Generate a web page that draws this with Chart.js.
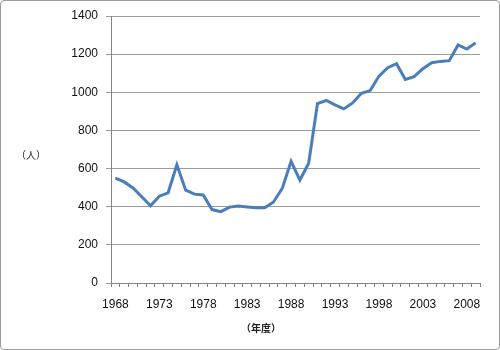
<!DOCTYPE html>
<html>
<head>
<meta charset="utf-8">
<script src="https://cdn.jsdelivr.net/npm/chart.js@4"></script>
<style>
  body { margin: 0; background: #fff; }
  #wrap { position: relative; width: 500px; height: 350px; }
  #frame { position: absolute; left: 0; top: 0; width: 500px; height: 350px; box-sizing: border-box;
           border: 1px solid #9a9a9a; border-radius: 4px; pointer-events: none; }
  .ttl { position: absolute; font-family: "Noto Sans CJK JP", sans-serif; font-size: 10px; color: #222; }
</style>
</head>
<body>
<div id="wrap">
  <canvas id="chart" width="500" height="350"></canvas>
  <div class="ttl" style="left:16px; top:147px;">（人）</div>
  <div class="ttl" style="left:241px; top:320px; font-weight:bold;">（年度）</div>
  <div id="frame"></div>
</div>
<script>
var years = [];
for (var y = 1968; y <= 2009; y++) years.push(String(y));

var persons = [550, 530, 498, 452, 405, 455, 473, 620, 487, 466, 462, 385, 374, 398, 404, 399, 395, 395, 425, 497, 638,
  540, 628, 941, 957, 934, 913, 944, 995, 1009, 1085, 1129, 1150, 1067, 1082, 1124, 1155, 1162, 1166, 1248, 1227, 1259];

var yTicks = [0, 200, 400, 600, 800, 1000, 1200, 1400];

var font = { family: "'Liberation Sans', Arial, sans-serif", size: 12 };

var chart = new Chart('chart', {
  type: 'line',
  data: {
    labels: years,
    datasets: [{
      label: '人',
      data: persons,
      borderColor: 'rgb(74, 126, 187)',
      borderWidth: 3,
      pointRadius: 0,
      tension: 0,
      fill: false
    }]
  },
  options: {
    responsive: false,
    animation: false,
    plugins: { legend: { display: false }, tooltip: { enabled: false } },
    layout: { padding: { left: 0, right: 20, top: 16, bottom: 0 } },
    scales: {
      x: {
        offset: true,
        grid: { offset: true, drawOnChartArea: false, drawTicks: true, tickLength: 4, color: '#868686' },
        border: { color: '#868686' },
        ticks: {
          autoSkip: false, maxRotation: 0, color: '#111', font: font, padding: 10,
          callback: function (v, i) { return i % 5 === 0 ? years[i] : ''; }
        },
        afterFit: function (s) { s.height = 67; }
      },
      y: {
        min: 0, max: 1400,
        afterBuildTicks: function (s) { s.ticks = yTicks.map(function (v) { return { value: v }; }); },
        grid: { color: '#9a9a9a', tickLength: 5, lineWidth: 1 },
        border: { color: '#868686' },
        ticks: { color: '#111', font: font, padding: 8, callback: function (v) { return String(v); } },
        afterFit: function (s) { s.width = 111; }
      }
    }
  }
});
</script>
</body>
</html>
